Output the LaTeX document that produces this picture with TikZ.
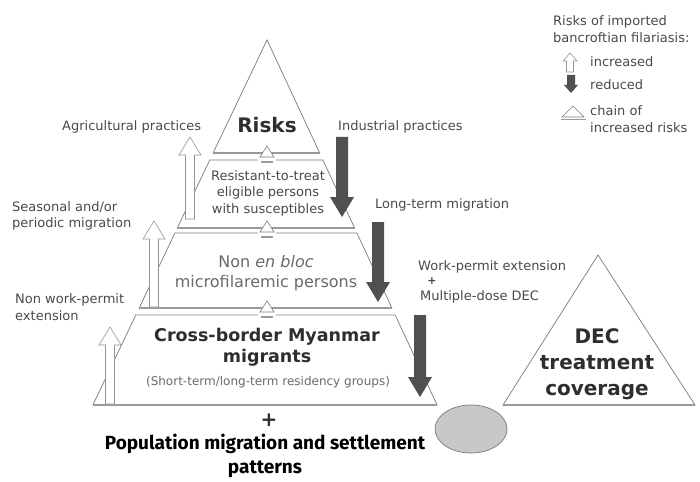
\documentclass[tikz,border=0pt]{standalone}
\usepackage{fontspec}
\usetikzlibrary{shapes.geometric}
\setmainfont{DejaVu Sans}
\newfontfamily\titlefont{Fira Sans}
\definecolor{edge}{HTML}{7A7A7A}
\definecolor{sepc}{HTML}{9A9A9A}
\definecolor{txt}{HTML}{4A4A4A}
\definecolor{lighttxt}{HTML}{6A6A6A}
\definecolor{darktxt}{HTML}{2E2E2E}
\definecolor{darkarr}{HTML}{505050}
\definecolor{ellfill}{HTML}{C8C8C8}
\newcommand{\HollowUp}[3]{%
  \begin{scope}[shift={(#1,#2)}]
    \draw[hollowarr] (0,0) -- (11,18) -- (4.5,18) -- (4.5,#3) -- (-4.5,#3) -- (-4.5,18) -- (-11,18) -- cycle;
  \end{scope}}
\newcommand{\SolidDown}[3]{%
  \begin{scope}[shift={(#1,#2)}]
    \fill[darkarr] (0,0) -- (12,-20) -- (6,-20) -- (6,-#3) -- (-6,-#3) -- (-6,-20) -- (-12,-20) -- cycle;
  \end{scope}}
\newcommand{\ChainMark}[2]{%
  \begin{scope}[shift={(#1,#2)}]
    \fill[white] (-9,2) rectangle (9,8);
    \draw[edge, line width=0.6pt, fill=white] (0,-8) -- (7,3) -- (-7,3) -- cycle;
    \draw[sepc, line width=1.4pt] (-6,8) -- (6,8);
  \end{scope}}
\begin{document}
\begin{tikzpicture}[x=1pt,y=-1pt,
  layer/.style={draw=edge, line width=0.7pt, fill=white},
  sepline/.style={draw=sepc, line width=1.6pt},
  hollowarr/.style={draw=edge!80, line width=0.6pt, fill=white},
  lbl/.style={font=\fontsize{13}{16.5}\selectfont, text=txt, inner sep=0pt, align=left},
  midlbl/.style={font=\fontsize{13}{16.5}\selectfont, text=txt, inner sep=0pt, align=center},
  bigbold/.style={font=\bfseries\fontsize{20}{26}\selectfont, text=darktxt, inner sep=0pt, align=center},
  midbold/.style={font=\bfseries\fontsize{17.5}{21}\selectfont, text=darktxt, inner sep=0pt, align=center},
  layertxt/.style={font=\fontsize{16}{20.5}\selectfont, text=lighttxt, inner sep=0pt, align=center},
  smalltxt/.style={font=\fontsize{12}{13}\selectfont, text=lighttxt, inner sep=0pt},
  titletxt/.style={font=\titlefont\bfseries\fontsize{19}{24}\selectfont, text=black, inner sep=0pt, align=center}
]
\useasboundingbox (0,0) rectangle (700,481);
\fill[white] (0,0) rectangle (700,481);

% pyramid layers
\draw[layer] (267,40) -- (319.7,153) -- (213.1,153) -- cycle;
\draw[layer] (209.8,160) -- (322.9,160) -- (354.6,228) -- (177.3,228) -- cycle;
\draw[layer] (174.9,233) -- (356.9,233) -- (391.9,308) -- (139.2,308) -- cycle;
\draw[layer] (135.8,315) -- (395.2,315) -- (437.1,405) -- (92.9,405) -- cycle;
\draw[sepline] (213.1,153) -- (319.7,153);
\draw[sepline] (177.3,228) -- (354.6,228);
\draw[sepline] (139.2,308) -- (391.9,308);
\draw[sepline] (92.9,405) -- (437.1,405);

\ChainMark{267}{154}
\ChainMark{267}{229}
\ChainMark{267}{309}

% DEC triangle and fulcrum
\draw[layer] (598,255) -- (695,405) -- (503,405) -- cycle;
\draw[sepline] (503,405) -- (695,405);
\node[ellipse, draw=edge, fill=ellfill, line width=0.7pt, minimum width=72pt, minimum height=48pt, inner sep=0pt] (fulcrum) at (471,429) {};

% arrows
\HollowUp{190}{137}{82}
\HollowUp{154}{221}{86}
\HollowUp{110}{327}{77}
\SolidDown{342}{217}{80}
\SolidDown{378}{302}{80}
\SolidDown{420}{397}{82}

% layer texts
\node[bigbold] (risks) at (267,125) {Risks};
\node[midlbl] (resist) at (268,193) {Resistant-to-treat\\eligible persons\\with susceptibles};
\node[layertxt] (nonbloc) at (266,273) {Non \textit{en bloc}\\microfilaremic persons};
\node[midbold] (cross) at (267,347) {Cross-border Myanmar\\migrants};
\node[smalltxt] (short) at (268,382) {(Short-term/long-term residency groups)};
\node[bigbold] (dec) at (597,364) {DEC\\treatment\\coverage};
\node[font=\bfseries\fontsize{20}{20}\selectfont, text=darktxt, inner sep=0pt] (plus) at (269,420) {+};
\node[titletxt] (title) at (265,456) {Population migration and settlement\\patterns};

% side labels
\node[lbl, anchor=west] (agri) at (62,127) {Agricultural practices};
\node[lbl, anchor=west] (seas) at (12,216) {Seasonal and/or\\periodic migration};
\node[lbl, anchor=west] (nonwork) at (15,307) {Non work-permit\\extension};
\node[lbl, anchor=west] (indus) at (338,127) {Industrial practices};
\node[lbl, anchor=west] (longterm) at (375,205) {Long-term migration};
\node[lbl, anchor=west] (workp) at (418,267) {Work-permit extension};
\node[font=\bfseries\fontsize{11}{11}\selectfont, text=txt, inner sep=0pt] (wplus) at (432,281) {+};
\node[lbl, anchor=west] (multi) at (420,297) {Multiple-dose DEC};

% legend
\node[lbl, anchor=west] (legtitle) at (553,29) {Risks of imported\\bancroftian filariasis:};
\begin{scope}[shift={(570,53)}]
  \draw[hollowarr] (0,0) -- (7,8) -- (3.5,8) -- (3.5,19) -- (-3.5,19) -- (-3.5,8) -- (-7,8) -- cycle;
\end{scope}
\begin{scope}[shift={(571,93)}]
  \fill[darkarr] (0,0) -- (7,-8) -- (4,-8) -- (4,-18) -- (-4,-18) -- (-4,-8) -- (-7,-8) -- cycle;
\end{scope}
\draw[edge, line width=0.6pt, fill=white] (573,106) -- (584,117) -- (562,117) -- cycle;
\draw[sepc, line width=1.4pt] (561,119.5) -- (586,119.5);
\node[lbl, anchor=west] (leginc) at (590,62) {increased};
\node[lbl, anchor=west] (legred) at (590,85) {reduced};
\node[lbl, anchor=west] (legchain) at (590,119) {chain of\\increased risks};
\end{tikzpicture}
\end{document}
